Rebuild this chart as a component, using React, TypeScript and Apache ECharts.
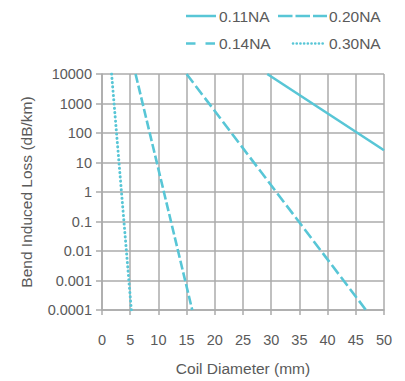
import React, { useEffect, useRef } from "react";
import * as echarts from "echarts";

const seriesNames = ["0.11NA", "0.14NA", "0.20NA", "0.30NA"];
const na011: [number, number][] = [[29.3, 10000], [50, 26]];
const na014: [number, number][] = [[15.0, 10000], [46.8, 0.0001]];
const na020: [number, number][] = [[5.95, 10000], [16.0, 0.0001]];
const na030: [number, number][] = [[1.7, 10000], [5.2, 0.0001]];
const yTickLabels = ["0.0001", "0.001", "0.01", "0.1", "1", "10", "100", "1000", "10000"];
const xTickLabels = ["0", "5", "10", "15", "20", "25", "30", "35", "40", "45", "50"];

const CYAN = "#58c6d6";
const GRID = "#ababab";
const TEXT = "#5a5a5a";
const FONT = "'Liberation Sans', Arial, Helvetica, sans-serif";

export default function App() {
  const ref = useRef<HTMLDivElement>(null);
  useEffect(() => {
    if (!ref.current) return;
    const chart = echarts.init(ref.current, undefined, { renderer: "svg" });
    const legendText = (x: number, y: number, t: string) => ({
      type: "text",
      x,
      y,
      style: { text: t, fill: TEXT, font: `15.5px ${FONT}`, textAlign: "left", textVerticalAlign: "middle" },
    });
    const legendLine = (x1: number, x2: number, y: number, dash: number[] | null, cap = "butt", w = 2.5) => ({
      type: "line",
      shape: { x1, y1: y, x2, y2: y },
      style: { stroke: CYAN, lineWidth: w, lineDash: dash || undefined, lineCap: cap },
    });
    chart.setOption({
      animation: false,
      backgroundColor: "#ffffff",
      grid: { left: 102, right: 21, top: 74, bottom: 69, containLabel: false },
      xAxis: {
        type: "value",
        min: 0,
        max: 50,
        interval: 5,
        name: "Coil Diameter (mm)",
        nameLocation: "middle",
        nameGap: 50,
        nameTextStyle: { color: TEXT, fontSize: 15.5, fontFamily: FONT },
        axisLine: { show: true, lineStyle: { color: GRID, width: 1.5 } },
        axisTick: { show: true, length: 5, lineStyle: { color: GRID, width: 1.5 } },
        axisLabel: {
          color: TEXT,
          fontSize: 14.5,
          fontFamily: FONT,
          margin: 22,
          formatter: (v: number) => xTickLabels[Math.round(v / 5)] ?? "",
        },
        splitLine: { show: true, lineStyle: { color: GRID, width: 1.5 } },
      },
      yAxis: {
        type: "log",
        logBase: 10,
        min: 0.0001,
        max: 10000,
        splitNumber: 8,
        name: "Bend Induced Loss (dB/km)",
        nameLocation: "middle",
        nameGap: 68,
        nameTextStyle: { color: TEXT, fontSize: 15.5, fontFamily: FONT },
        axisLine: { show: true, lineStyle: { color: GRID, width: 1.5 } },
        axisTick: { show: true, length: 6, lineStyle: { color: GRID, width: 1.5 } },
        axisLabel: {
          color: TEXT,
          fontSize: 14.5,
          fontFamily: FONT,
          margin: 10,
          formatter: (v: number) => yTickLabels[Math.round(Math.log10(v)) + 4] ?? "",
        },
        splitLine: { show: true, lineStyle: { color: GRID, width: 1.5 } },
      },
      series: [
        { name: seriesNames[0], type: "line", data: na011, symbol: "none", lineStyle: { color: CYAN, width: 2.6, type: "solid" } },
        { name: seriesNames[1], type: "line", data: na014, symbol: "none", lineStyle: { color: CYAN, width: 2.6, type: [11, 4] } },
        { name: seriesNames[2], type: "line", data: na020, symbol: "none", lineStyle: { color: CYAN, width: 2.6, type: [9, 3] } },
        { name: seriesNames[3], type: "line", data: na030, symbol: "none", lineStyle: { color: CYAN, width: 3, type: [0.1, 4.2], cap: "round" } },
      ],
      graphic: [
        legendLine(186, 216, 16, null),
        legendText(219, 16, seriesNames[0]),
        legendLine(278, 327, 16, [14.5, 3]),
        legendText(329, 16, seriesNames[2]),
        legendLine(186, 215, 43.5, [9.5, 10]),
        legendText(219, 43.5, seriesNames[1]),
        legendLine(293, 325, 43.5, [0.1, 3.6], "round", 2.6),
        legendText(329, 43.5, seriesNames[3]),
      ],
    });
    return () => chart.dispose();
  }, []);
  return <div ref={ref} style={{ width: 405, height: 381, position: "absolute", left: 0, top: 0 }} />;
}
